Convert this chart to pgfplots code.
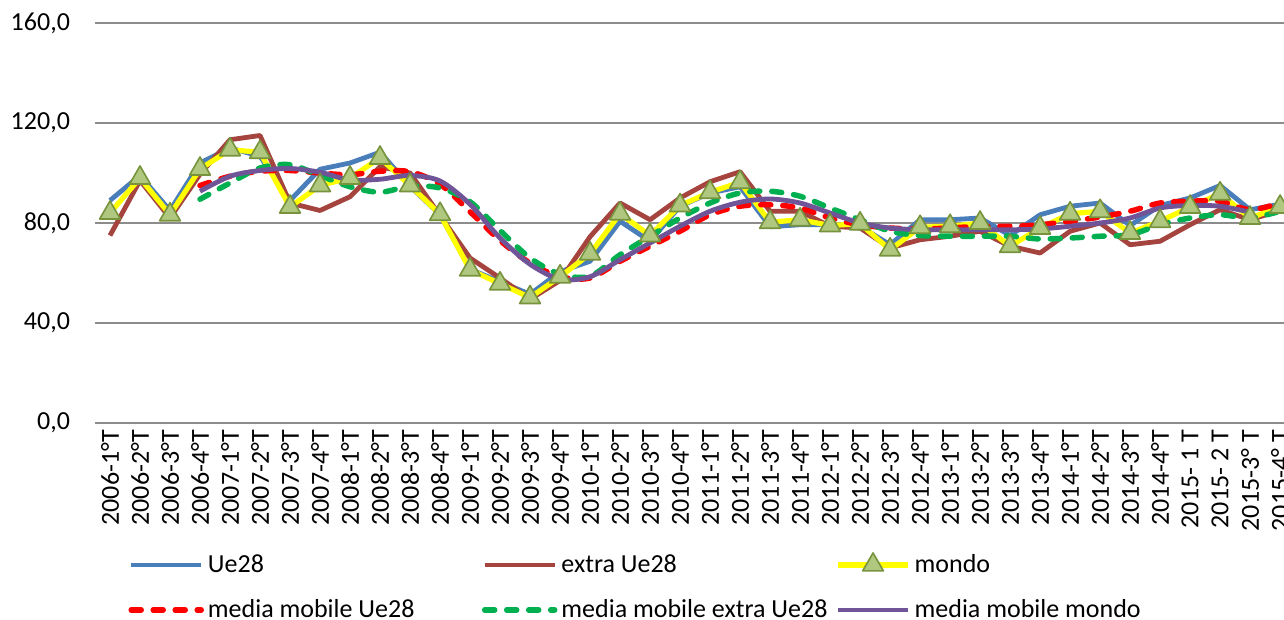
\documentclass[border=0pt]{standalone}
\usepackage{fontspec}
\setmainfont{Carlito}
\usepackage{pgfplots}
\usepackage{pgfplotstable}
\pgfplotsset{compat=1.18}
\definecolor{ueblue}{HTML}{4A7EBB}
\definecolor{extbrown}{HTML}{A5443F}
\definecolor{mondoyel}{HTML}{FFFF00}
\definecolor{trifill}{HTML}{AFC77F}
\definecolor{triedge}{HTML}{77933C}
\definecolor{mared}{HTML}{FF0000}
\definecolor{magreen}{HTML}{00B050}
\definecolor{mapurple}{HTML}{6F5597}
\definecolor{gridgray}{HTML}{8C8C8C}

% x ue ext mon mue mext mmon
\pgfplotstableread{
x  ue    ext   mon   mue   mext  mmon
0  89    75    84    nan   nan   nan
1  99    97    98    nan   nan   nan
2  85    82    83.3  nan   nan   nan
3  104   99.5  101.6 95    89.5  92.7
4  110   113.3 109.3 98.7  96    98.7
5  106.7 115   108.3 100.7 102   101
6  89    88    86.4  101   103.3 101.8
7  101.5 85    95    100   99    100.3
8  104   90.5  98    99.3  94.5  97.2
9  108.3 102.5 106   100.7 92.3  97.5
10 94.7  100   95    100.5 94.7  99
11 83.3  83    83.5  95.5  94    96.8
12 61.5  66    61.3  84.5  88.5  87.5
13 56.5  58    55.7  73    77    74
14 51.5  49.5  50.2  64    66    63.5
15 60.5  57    58.5  58.5  59.5  57.5
16 64.7  74.5  67.7  58    58.7  58.5
17 80.7  88    83.7  64.7  67.3  65.3
18 72.7  81.3  75    70.7  74.7  72
19 86.7  90    87    76.7  82    78.7
20 92    96.5  92.3  83.3  88    84.7
21 94.5  100.5 96.3  86.7  92    88.3
22 78.5  84.7  80.3  87.3  92.7  89.6
23 79.3  84.7  81.3  86    90.7  88
24 79.3  78.7  79    82    86    84
25 78.7  78    79.7  79.3  81.3  80
26 71.3  70    69.3  78    76.7  78
27 81.3  73.3  78.3  77.6  75    77.3
28 81.3  74.7  78.7  78    74.7  77.3
29 82    76.7  80    78.7  74.7  77.3
30 75    70.7  70.7  78.7  74.7  77.3
31 83.3  68    78    79.3  73.6  77.6
32 86.7  76.7  83.7  80.7  74    78.7
33 88    80    84.7  82.4  74.7  80
34 79    71.3  76    84.7  75.3  82
35 87    72.7  80.7  88    79.3  86
36 90    79.3  86.4  88.7  82    87
37 95    85.3  91.7  88.7  83.3  86.7
38 85.3  81.3  82    85.3  82    84.3
39 87.5  85    86.4  88    84.7  nan
}\data

\begin{document}
\begin{tikzpicture}
\useasboundingbox (-47.5pt,-98.5pt) rectangle (594.5pt,211.5pt);
\begin{axis}[
  at={(0,0)}, anchor=south west,
  scale only axis, width=594.5pt, height=200pt,
  xmin=-0.5, xmax=39.13, ymin=0, ymax=160,
  ytick={0,40,...,160},
  xtick={0,...,39},
  xticklabels={2006-1°T,2006-2°T,2006-3°T,2006-4°T,2007-1°T,2007-2°T,2007-3°T,2007-4°T,
    2008-1°T,2008-2°T,2008-3°T,2008-4°T,2009-1°T,2009-2°T,2009-3°T,2009-4°T,
    2010-1°T,2010-2°T,2010-3°T,2010-4°T,2011-1°T,2011-2°T,2011-3°T,2011-4°T,
    2012-1°T,2012-2°T,2012-3°T,2012-4°T,2013-1°T,2013-2°T,2013-3°T,2013-4°T,
    2014-1°T,2014-2°T,2014-3°T,2014-4°T,2015- 1 T,2015- 2 T,2015-3° T,2015-4° T},
  every tick label/.append style={font=\fontsize{13}{15}\selectfont},
  x tick label style={rotate=90, anchor=east},
  y tick label style={xshift=-9pt,
    /pgf/number format/fixed, /pgf/number format/fixed zerofill,
    /pgf/number format/precision=1, /pgf/number format/use comma,
    /pgf/number format/assume math mode=true},
  axis line style={draw=none},
  major tick length=0pt,
  tick style={draw=none},
  ymajorgrids, grid style={color=gridgray, line width=0.8pt},
  legend columns=3,
  legend style={at={(0.0278,-0.3175)}, anchor=north west, draw=none, fill=none,
    inner sep=0pt, font=\fontsize{13}{15}\selectfont,
    /tikz/column sep=0pt, /tikz/row sep=8pt},
  legend cell align=left,
  legend image code/.code={\draw[mark repeat=2,mark phase=2,#1]
    plot coordinates {(0pt,0pt) (17.5pt,0pt) (35pt,0pt)};},
]
\addplot[ueblue, line width=2.4pt, line join=round, no marks] table[x=x,y=ue]{\data};
\addlegendentry{\makebox[135pt][l]{Ue28}}
\addplot[extbrown, line width=2.4pt, line join=round, no marks] table[x=x,y=ext]{\data};
\addlegendentry{\makebox[135pt][l]{extra Ue28}}
\addplot[mondoyel, line width=2.6pt, line join=round, mark=triangle*, mark size=6pt,
  mark options={fill=trifill, draw=triedge, line width=0.8pt}] table[x=x,y=mon]{\data};
\addlegendentry{mondo}
\addplot[mared, line width=2.75pt, line cap=round, dash pattern=on 5pt off 6pt, smooth, no marks] table[x=x,y=mue]{\data};
\addlegendentry{\makebox[135pt][l]{media mobile Ue28}}
\addplot[magreen, line width=2.75pt, line cap=round, dash pattern=on 5pt off 6pt, smooth, no marks] table[x=x,y=mext]{\data};
\addlegendentry{\makebox[135pt][l]{media mobile extra Ue28}}
\addplot[mapurple, line width=2.4pt, line join=round, smooth, no marks] table[x=x,y=mmon]{\data};
\addlegendentry{media mobile mondo}
\end{axis}
\end{tikzpicture}
\end{document}
